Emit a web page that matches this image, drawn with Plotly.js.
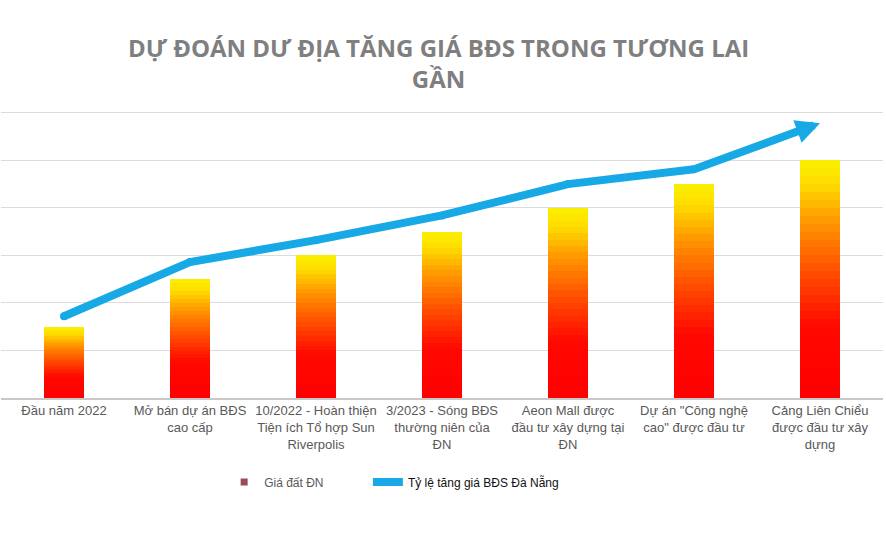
<!DOCTYPE html>
<html>
<head>
<meta charset="utf-8">
<script src="https://cdn.plot.ly/plotly-3.0.1.min.js"></script>
<style>
  html, body { margin: 0; padding: 0; background: #fff; }
  #chart { width: 886px; height: 542px; }
</style>
</head>
<body>
<div id="chart"></div>
<script>
// moc thoi gian (nhan truc x)
var mocThoiGian = [
  "Đầu năm 2022",
  "Mở bán dự án BĐS<br>cao cấp",
  "10/2022 - Hoàn thiện<br>Tiện ích Tổ hợp Sun<br>Riverpolis",
  "3/2023 - Sóng BĐS<br>thường niên của<br>ĐN",
  "Aeon Mall được<br>đầu tư xây dựng tại<br>ĐN",
  "Dự án \"Công nghệ<br>cao\" được đầu tư",
  "Cảng Liên Chiểu<br>được đầu tư xây<br>dựng"
];
// gia dat (cot)
var giaDat = [1.5, 2.5, 3, 3.5, 4, 4.5, 5];
// ty le tang gia (mui ten)
var tyLeTang = [1.72, 2.86, 3.32, 3.84, 4.5, 4.81, 5.78];

var tenCot = "Giá đất ĐN";
var tenDuong = "Tỷ lệ tăng giá BĐS Đà Nẵng";

// mau chuyen tu do (duoi) sang vang (tren)
var diemMau = [
  [0.00, [255, 0, 0]],
  [0.30, [255, 8, 0]],
  [0.52, [255, 75, 0]],
  [0.74, [255, 150, 0]],
  [0.90, [255, 220, 0]],
  [1.00, [250, 240, 0]]
];
function mauTai(f) {
  for (var i = 1; i < diemMau.length; i++) {
    if (f <= diemMau[i][0]) {
      var a = diemMau[i - 1], b = diemMau[i];
      var t = (f - a[0]) / (b[0] - a[0]);
      var c = a[1].map(function (v, k) { return Math.round(v + (b[1][k] - v) * t); });
      return "rgb(" + c.join(",") + ")";
    }
  }
  return "rgb(250,240,0)";
}

var soLop = 30;
var data = [];
for (var i = 0; i < soLop; i++) {
  data.push({
    x: mocThoiGian,
    y: giaDat.map(function (v) { return v / soLop; }),
    type: "bar",
    name: tenCot,
    legendgroup: "cot",
    showlegend: false,
    marker: { color: mauTai((i + 0.5) / soLop), line: { width: 0 } },
    hoverinfo: "skip"
  });
}

// o chu thich cho cot (chi hien trong legend)
data.push({
  x: [null],
  y: [null],
  type: "scatter",
  mode: "markers",
  name: tenCot,
  legendgroup: "cot",
  showlegend: true,
  marker: { symbol: "square", size: 7, color: "#9a4d57" }
});

// duong tang gia (doan cuoi ve bang mui ten)
data.push({
  x: mocThoiGian.slice(0, 6),
  y: tyLeTang.slice(0, 6),
  type: "scatter",
  mode: "lines+markers",
  name: tenDuong,
  legend: "legend2",
  line: { color: "#16a9e6", width: 8 },
  marker: { color: "#16a9e6", size: 8 }
});

var layout = {
  width: 886,
  height: 542,
  margin: { l: 1, r: 3, t: 108, b: 144 },
  paper_bgcolor: "#ffffff",
  plot_bgcolor: "#ffffff",
  barmode: "stack",
  bargap: 0.68,
  font: { family: "Liberation Sans, Arial, sans-serif", color: "#595959", size: 13 },
  title: {
    text: "DỰ ĐOÁN DƯ ĐỊA TĂNG GIÁ BĐS TRONG TƯƠNG LAI<br>GẦN",
    font: { family: "Open Sans, sans-serif", size: 24, color: "#7f7f7f", weight: "bold" },
    x: 0.495,
    xanchor: "center",
    y: 0.895,
    yanchor: "top"
  },
  xaxis: {
    type: "category",
    showgrid: false,
    showline: true,
    linecolor: "#c8c8c8",
    linewidth: 1.5,
    ticks: "",
    tickfont: { size: 13, color: "#595959" },
    fixedrange: true
  },
  yaxis: {
    range: [0, 6.1],
    dtick: 1,
    showticklabels: false,
    gridcolor: "#dcdcdc",
    gridwidth: 1,
    zeroline: false,
    fixedrange: true
  },
  legend: {
    orientation: "h",
    x: 0.253,
    xanchor: "left",
    y: -0.29,
    yanchor: "middle",
    font: { size: 12, color: "#595959" }
  },
  legend2: {
    orientation: "h",
    x: 0.416,
    xanchor: "left",
    y: -0.29,
    yanchor: "middle",
    font: { size: 12, color: "#111111" }
  },
  annotations: [{
    x: mocThoiGian[6],
    y: tyLeTang[6],
    xref: "x",
    yref: "y",
    ax: mocThoiGian[5],
    ay: tyLeTang[5],
    axref: "x",
    ayref: "y",
    text: "",
    showarrow: true,
    arrowhead: 2,
    arrowsize: 0.6,
    arrowwidth: 8,
    arrowcolor: "#16a9e6"
  }]
};

Plotly.newPlot("chart", data, layout, { displayModeBar: false, staticPlot: true });
</script>
</body>
</html>
